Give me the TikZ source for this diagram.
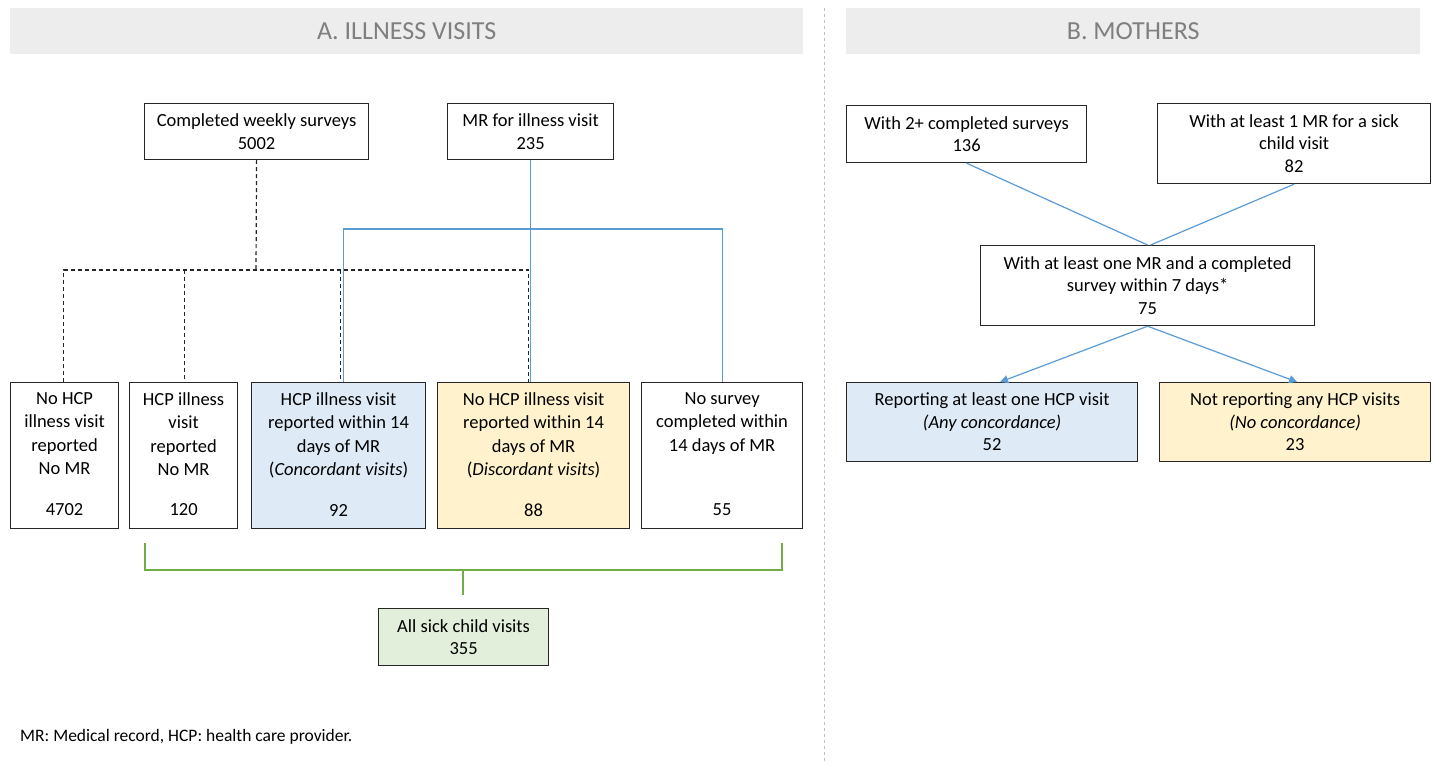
\documentclass[tikz,border=0pt]{standalone}
\usepackage{fontspec}
\setmainfont{Carlito}
\usetikzlibrary{arrows.meta,calc}
\definecolor{hdrgray}{HTML}{EDEDED}
\definecolor{hdrtext}{HTML}{7F7F7F}
\definecolor{bluefill}{HTML}{DEEBF7}
\definecolor{yelfill}{HTML}{FFF2CC}
\definecolor{grnfill}{HTML}{E2EFDA}
\definecolor{blueline}{HTML}{5B9BD5}
\definecolor{grnline}{HTML}{70AD47}
\definecolor{divgray}{HTML}{BFBFBF}
\begin{document}
\begin{tikzpicture}[x=1pt,y=-1pt,
  box/.style={draw=black!85, line width=1.2pt, rectangle, inner sep=0pt, anchor=north west,
    align=center, font=\fontsize{18.5}{22.5}\selectfont},
  txt/.style={inner sep=0pt, align=center, font=\fontsize{18.5}{23.5}\selectfont},
  hdr/.style={fill=hdrgray, inner sep=0pt, anchor=north west, minimum height=46,
    text=hdrtext, font=\fontsize{26}{30}\selectfont},
  dashln/.style={draw=black!85, line width=1.2pt, dash pattern=on 4pt off 3pt},
  blueln/.style={draw=blueline, line width=1.2pt},
  grnln/.style={draw=grnline, line width=1.8pt},
  tip/.style={-{Triangle[length=8pt,width=8pt]}}
]
\useasboundingbox (0,0) rectangle (1434,761);

% headers and divider
\node[hdr, minimum width=793] (ha) at (10,8) {A. ILLNESS VISITS};
\node[hdr, minimum width=574] (hb) at (846,8) {B. MOTHERS};
\draw[divgray, line width=1pt, dash pattern=on 3pt off 3pt] (824,8) -- (824,761);

% ---------- Panel A ----------
\node[box, minimum width=224, minimum height=56] (cws) at (144,103) {Completed weekly surveys\\5002};
\node[box, minimum width=166, minimum height=56] (mr) at (447,103) {MR for illness visit\\235};

\node[box, minimum width=108, minimum height=146] (b1) at (10,382) {};
\node[box, minimum width=108, minimum height=146] (b2) at (129,382) {};
\node[box, minimum width=174, minimum height=146, fill=bluefill] (b3) at (251,382) {};
\node[box, minimum width=192, minimum height=146, fill=yelfill] (b4) at (437,382) {};
\node[box, minimum width=161, minimum height=146] (b5) at (641,382) {};

\coordinate (numrow) at (0,510);
\node[txt, anchor=north] (t1) at ($(b1.north)+(0,10)$) {No HCP\\illness visit\\reported\\No MR};
\node[txt, anchor=north] (t2) at ($(b2.north)+(0,10)$) {HCP illness\\visit\\reported\\No MR};
\node[txt, anchor=north] (t3) at ($(b3.north)+(0,10)$) {HCP illness visit\\reported within 14\\days of MR\\(\textit{Concordant visits})};
\node[txt, anchor=north] (t4) at ($(b4.north)+(0,10)$) {No HCP illness visit\\reported within 14\\days of MR\\(\textit{Discordant visits})};
\node[txt, anchor=north] (t5) at ($(b5.north)+(0,10)$) {No survey\\completed within\\14 days of MR};

\node[txt] (n1) at (b1.center |- numrow) {4702};
\node[txt] (n2) at (b2.center |- numrow) {120};
\node[txt] (n3) at (b3.center |- numrow) {92};
\node[txt] (n4) at (b4.center |- numrow) {88};
\node[txt] (n5) at (b5.center |- numrow) {55};

% dashed tree from completed surveys
\coordinate (dj) at (256,270);
\coordinate (d1) at ($(b1.north)+(-1,0)$);
\coordinate (d2) at ($(b2.north)+(1,0)$);
\coordinate (d3) at ($(b3.north)+(2,0)$);
\coordinate (d4) at ($(b4.north)+(-5,0)$);
\draw[dashln] (cws.south) -- (dj);
\draw[dashln] (d1) |- (dj) -| (d4);
\draw[dashln] (d2 |- dj) -- (d2);
\draw[dashln] (d3 |- dj) -- (d3);

% blue tree from MR
\coordinate (bh) at (530,229);
\coordinate (u3) at ($(b3.north)+(5,0)$);
\draw[blueln] (mr.south) -- (mr.south |- b4.north);
\draw[blueln] (u3) |- (bh) -| (b5.north);

% green bracket
\coordinate (gl) at (145,543);
\coordinate (gr) at (782,543);
\coordinate (gj) at (463,570);
\node[box, minimum width=170, minimum height=57, fill=grnfill] (all) at (378,608) {All sick child visits\\355};
\draw[grnln] (gl) |- (gj) -| (gr);
\draw[grnln] (gj) -- (gj |- {$(all.north)+(0,-13)$});

\node[anchor=west, inner sep=0pt, font=\fontsize{17.5}{20}\selectfont] (fn) at (20,737) {MR: Medical record, HCP: health care provider.};

% ---------- Panel B ----------
\node[box, minimum width=240, minimum height=57] (s2) at (846,105) {With 2+ completed surveys\\136};
\node[box, minimum width=273, minimum height=80] (m82) at (1157,103) {With at least 1 MR for a sick\\child visit\\82};
\node[box, minimum width=334, minimum height=80] (mid) at (980,245) {With at least one MR and a completed\\survey within 7 days*\\75};
\node[box, minimum width=291, minimum height=79, fill=bluefill] (rb) at (846,382) {Reporting at least one HCP visit\\\textit{(Any concordance)}\\52};
\node[box, minimum width=271, minimum height=79, fill=yelfill] (nr) at (1159,382) {Not reporting any HCP visits\\\textit{(No concordance)}\\23};

\draw[blueln] (s2.south) -- (mid.north);
\draw[blueln] (m82.south) -- ($(mid.north)+(3,0)$);
\draw[blueln, tip] (mid.south) -- ($(rb.north)+(8,0)$);
\draw[blueln, tip] (mid.south) -- ($(nr.north)+(2,0)$);
\end{tikzpicture}
\end{document}
